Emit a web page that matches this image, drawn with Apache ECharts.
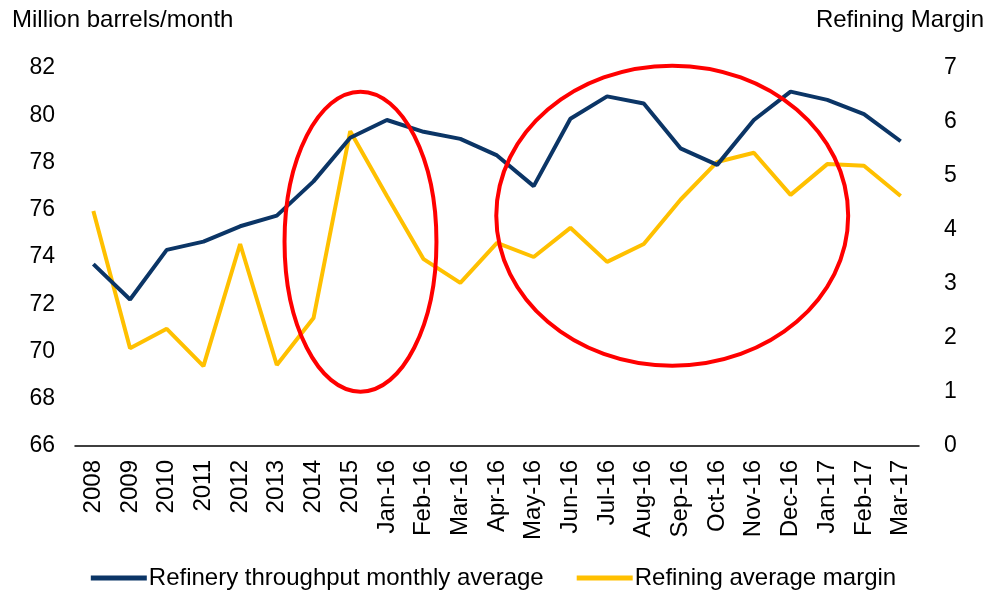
<!DOCTYPE html>
<html>
<head>
<meta charset="utf-8">
<script src="https://cdn.jsdelivr.net/npm/echarts@6/dist/echarts.min.js"></script>
<style>
  html, body { margin: 0; padding: 0; background: #fff; }
  #chart { width: 987px; height: 590px; }
</style>
</head>
<body>
<div id="chart"></div>
<script>
// categories on the x axis
const categories = ['2008', '2009', '2010', '2011', '2012', '2013', '2014', '2015',
  'Jan-16', 'Feb-16', 'Mar-16', 'Apr-16', 'May-16', 'Jun-16', 'Jul-16', 'Aug-16',
  'Sep-16', 'Oct-16', 'Nov-16', 'Dec-16', 'Jan-17', 'Feb-17', 'Mar-17'];

// million barrels / month (left axis)
const throughput = [73.7, 72.2, 74.3, 74.65, 75.3, 75.75, 77.2, 79.05,
  79.8, 79.3, 79.0, 78.3, 77.0, 79.85, 80.8, 80.5,
  78.6, 77.9, 79.8, 81.0, 80.65, 80.05, 78.9];

// refining margin (right axis)
const margin = [4.35, 1.81, 2.17, 1.48, 3.74, 1.5, 2.37, 5.83,
  4.63, 3.46, 3.02, 3.76, 3.5, 4.04, 3.41, 3.74,
  4.56, 5.26, 5.43, 4.65, 5.22, 5.19, 4.63];

// highlight ellipses: [xIndexFrom, xIndexTo, leftValueTop, leftValueBottom]
const highlights = [
  [5.21, 9.35, 81.0, 68.3],
  [10.98, 20.57, 82.1, 69.4]
];

const font = 'Liberation Sans, Arial, sans-serif';
const fs = 23;
const fsBig = 24;
const chart = echarts.init(document.getElementById('chart'));

chart.setOption({
  animation: false,
  textStyle: { fontFamily: font },
  grid: { left: 75, right: 67, top: 68, bottom: 144 },
  legend: {
    bottom: -5,
    icon: 'rect',
    itemWidth: 56,
    itemHeight: 5,
    itemGap: 33,
    textStyle: { fontSize: fsBig, color: '#000', fontFamily: font, padding: [0, 0, 0, -3] },
    data: ['Refinery throughput monthly average', 'Refining average margin']
  },
  xAxis: {
    type: 'category',
    data: categories,
    boundaryGap: true,
    axisLine: { lineStyle: { color: '#000', width: 1.5 } },
    axisTick: { show: false },
    axisLabel: { rotate: 90, fontSize: fsBig, color: '#000', margin: 14, interval: 0 }
  },
  yAxis: [
    {
      type: 'value', min: 66, max: 82, interval: 2,
      name: 'Million barrels/month',
      nameLocation: 'end',
      nameGap: 36,
      nameTextStyle: { fontSize: fsBig, color: '#000', align: 'left', padding: [0, 0, 0, -63] },
      axisLine: { show: false }, axisTick: { show: false }, splitLine: { show: false },
      axisLabel: { fontSize: fs, color: '#000', margin: 20 }
    },
    {
      type: 'value', min: 0, max: 7, interval: 1,
      name: 'Refining Margin',
      nameLocation: 'end',
      nameGap: 36,
      nameTextStyle: { fontSize: fsBig, color: '#000', align: 'right', padding: [0, -65, 0, 0] },
      axisLine: { show: false }, axisTick: { show: false }, splitLine: { show: false },
      axisLabel: { fontSize: fs, color: '#000', margin: 25 }
    }
  ],
  series: [
    {
      name: 'Refinery throughput monthly average',
      type: 'line',
      yAxisIndex: 0,
      data: throughput,
      symbol: 'none',
      lineStyle: { color: '#0b3566', width: 4 },
      itemStyle: { color: '#0b3566' },
      z: 3
    },
    {
      name: 'Refining average margin',
      type: 'line',
      yAxisIndex: 1,
      data: margin,
      symbol: 'none',
      lineStyle: { color: '#ffc000', width: 4 },
      itemStyle: { color: '#ffc000' },
      z: 2
    }
  ]
});

// category axis rounds to whole indices, so interpolate between two categories
function xPixel(idx) {
  const a = chart.convertToPixel({ xAxisIndex: 0 }, 0);
  const b = chart.convertToPixel({ xAxisIndex: 0 }, 1);
  return a + (b - a) * idx;
}

// 椭圆标注，按数据坐标换算成像素
function drawHighlights() {
  const elements = highlights.map(h => {
    const x1 = xPixel(h[0]);
    const x2 = xPixel(h[1]);
    const y1 = chart.convertToPixel({ yAxisIndex: 0 }, h[2]);
    const y2 = chart.convertToPixel({ yAxisIndex: 0 }, h[3]);
    return {
      type: 'ellipse',
      shape: {
        cx: (x1 + x2) / 2,
        cy: (y1 + y2) / 2,
        rx: Math.abs(x2 - x1) / 2,
        ry: Math.abs(y2 - y1) / 2
      },
      style: { fill: 'none', stroke: '#ff0000', lineWidth: 4 },
      z: 10
    };
  });
  chart.setOption({ graphic: elements });
}
drawHighlights();
</script>
</body>
</html>
